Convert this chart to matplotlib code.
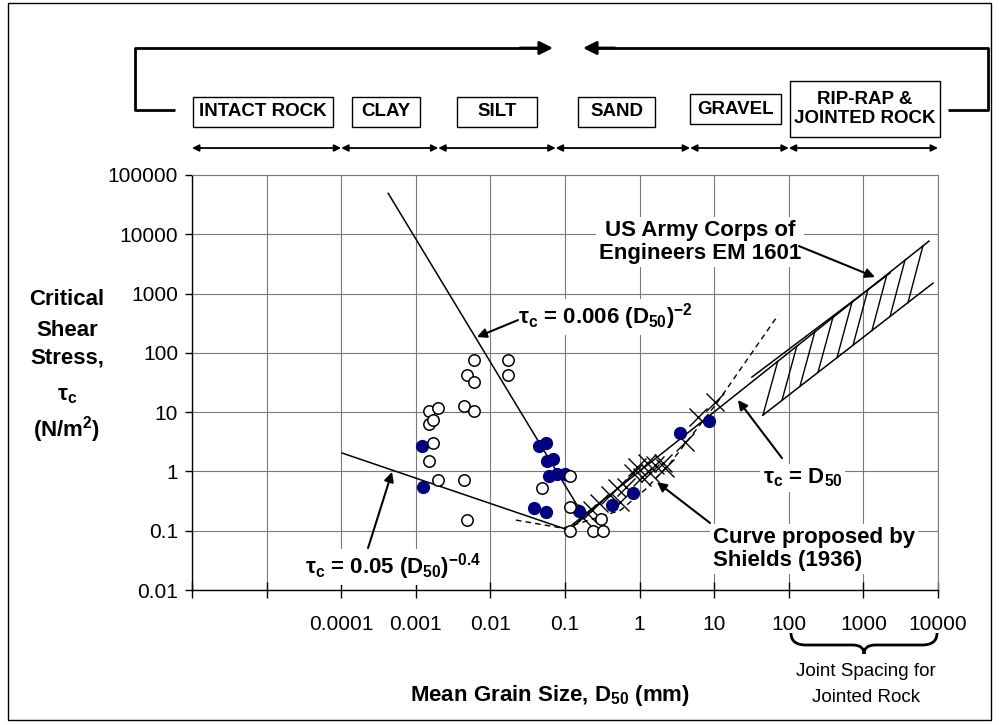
import numpy as np
import matplotlib
matplotlib.use('Agg')
import matplotlib.pyplot as plt
from matplotlib.lines import Line2D
from matplotlib.patches import Rectangle, PathPatch, FancyArrowPatch
from matplotlib.path import Path
from matplotlib import font_manager as fm
from matplotlib.ticker import NullLocator

# ---- data ----
# open circles
open_x = [0.0060, 0.0172, 0.0049, 0.0060, 0.0172, 0.0044, 0.0060, 0.0015, 0.0020, 0.0015,
          0.0017, 0.0017, 0.0015, 0.0020, 0.0044, 0.0049, 0.049, 0.115, 0.115, 0.115,
          0.24, 0.32, 0.30]
open_y = [75, 75, 42, 32, 42, 12.7, 10.4, 10.4, 11.7, 6.3,
          7.4, 3.0, 1.5, 0.72, 0.72, 0.15, 0.52, 0.84, 0.25, 0.10,
          0.10, 0.10, 0.16]

# filled (navy) circles
filled_x = [0.00120, 0.00124, 0.045, 0.056, 0.057, 0.069, 0.061, 0.078, 0.100,
            0.038, 0.056, 0.155, 0.43, 0.82, 3.5, 8.5]
filled_y = [2.7, 0.55, 2.7, 3.0, 1.5, 1.6, 0.85, 0.92, 0.90,
            0.24, 0.21, 0.215, 0.27, 0.43, 4.4, 7.1]

# crosses
cross_x = [0.17, 0.20, 0.23, 0.29, 0.40, 0.50, 0.55, 0.65, 0.82, 0.92,
           1.07, 1.26, 1.37, 1.60, 2.06, 2.20, 4.1, 6.1, 10.3]
cross_y = [0.17, 0.20, 0.22, 0.29, 0.40, 0.52, 0.30, 0.55, 0.95, 1.19,
           0.81, 1.39, 0.94, 1.29, 1.39, 1.15, 3.1, 8.3, 14.8]

# straight lines (end points)
steep_x = [4.27e-4, 0.159]      # tau_c = 0.006 D50^-2
steep_y = [4.9e4, 0.223]
flat_x = [1.03e-4, 0.103]       # tau_c = 0.05 D50^-0.4
flat_y = [2.04, 0.106]
unit_x = [0.124, 7570]          # tau_c = D50
unit_y = [0.125, 7670]

# Shields curve (dashed)
shields_x = [0.022, 0.095, 0.55, 1.18, 2.56, 10.8, 72]
shields_y = [0.151, 0.11, 0.22, 0.49, 1.37, 14.1, 434]

# US Army Corps band
band_low_x = [45, 8570]
band_low_y = [8.9, 1500]
band_up_x = [32, 2275]
band_up_y = [39, 2220]
hatch_bottom_x = [45, 81, 141, 246, 443, 726, 1303, 2275, 3963]
hatch_top_x = [71, 128, 223, 390, 702, 1150, 2065, 3605, 6280]

# axes
x_ticks = [1e-6, 1e-5, 1e-4, 1e-3, 1e-2, 1e-1, 1, 10, 100, 1000, 1e4]
x_tick_labels = ['', '', '0.0001', '0.001', '0.01', '0.1', '1', '10', '100', '1000', '10000']
y_ticks = [0.01, 0.1, 1, 10, 100, 1000, 1e4, 1e5]
y_tick_labels = ['0.01', '0.1', '1', '10', '100', '1000', '10000', '100000']

# soil classes along the top
class_bounds = [1e-6, 1e-4, 0.002, 0.075, 4.75, 100, 1e4]
class_names = ['INTACT ROCK', 'CLAY', 'SILT', 'SAND', 'GRAVEL', 'RIP-RAP &\nJOINTED ROCK']

W, H = 999, 725


def fx(px):
    return px / W


def fy(py):
    return 1 - py / H


def loginterp(x, xs, ys):
    return 10 ** np.interp(np.log10(x), np.log10(xs), np.log10(ys))


def fig_line(fig, xs, ys, lw=1.0):
    fig.add_artist(Line2D([fx(v) for v in xs], [fy(v) for v in ys],
                          transform=fig.transFigure, color='black', lw=lw,
                          solid_capstyle='butt'))


def fig_box(fig, x0, y0, x1, y1):
    fig.add_artist(Rectangle((fx(x0), fy(y1)), fx(x1) - fx(x0), fy(y0) - fy(y1),
                             transform=fig.transFigure, fill=False, ec='black', lw=1))


def main():
    plt.rcParams['font.family'] = ['Liberation Sans', 'DejaVu Sans']
    plt.rcParams['mathtext.fontset'] = 'custom'
    plt.rcParams['mathtext.rm'] = 'Liberation Sans'
    plt.rcParams['mathtext.bf'] = 'Liberation Sans:bold'
    plt.rcParams['mathtext.it'] = 'Liberation Sans:italic'

    names = {f.name for f in fm.fontManager.ttflist}
    box_font = 'Liberation Sans Narrow' if 'Liberation Sans Narrow' in names else 'Liberation Sans'
    box_size = 15 if box_font == 'Liberation Sans Narrow' else 13.5

    fig = plt.figure(figsize=(W / 100, H / 100), dpi=100)
    ax = fig.add_axes([fx(192), fy(590), fx(938) - fx(192), fy(175) - fy(590)])
    ax.set_xscale('log')
    ax.set_yscale('log')
    ax.set_xlim(1e-6, 1e4)
    ax.set_ylim(0.01, 1e5)
    ax.set_xticks(x_ticks, x_tick_labels)
    ax.set_yticks(y_ticks, y_tick_labels)
    ax.xaxis.set_minor_locator(NullLocator())
    ax.yaxis.set_minor_locator(NullLocator())
    ax.tick_params(axis='x', direction='inout', length=12, width=1, pad=12, labelsize=15)
    ax.tick_params(axis='y', direction='out', length=5, width=1, pad=5, labelsize=15)
    ax.grid(True, color='#7a7a7a', lw=0.8)
    ax.set_axisbelow(True)
    for side in ['top', 'right']:
        ax.spines[side].set_color('#7a7a7a')
        ax.spines[side].set_linewidth(0.8)
    for side in ['left', 'bottom']:
        ax.spines[side].set_linewidth(1.0)

    # lines
    ax.plot(steep_x, steep_y, color='black', lw=1.1)
    ax.plot(flat_x, flat_y, color='black', lw=1.1)
    ax.plot(unit_x, unit_y, color='black', lw=1.1)
    ax.plot(shields_x, shields_y, color='black', lw=1.0, dashes=(4, 3))

    # Corps of Engineers band
    ax.plot(band_low_x, band_low_y, color='black', lw=1.1)
    ax.plot(band_up_x, band_up_y, color='black', lw=1.1)
    for xb, xt in zip(hatch_bottom_x, hatch_top_x):
        yb = loginterp(xb, band_low_x, band_low_y)
        yt = loginterp(xt, unit_x, unit_y)
        ax.plot([xb, xt], [yb, yt], color='black', lw=1.0)

    # points
    ax.plot(cross_x, cross_y, 'x', color='black', ms=13, mew=1.0, ls='none', zorder=3)
    ax.plot(filled_x, filled_y, 'o', color='#000080', ms=8.5, ls='none', zorder=4)
    ax.plot(open_x, open_y, 'o', mfc='white', mec='black', ms=8.2, mew=1.1, ls='none', zorder=5)

    # annotations
    bb = dict(facecolor='white', edgecolor='none', pad=2)
    arr = dict(arrowstyle='-|>', color='black', lw=1.5, mutation_scale=14, shrinkA=0, shrinkB=0)
    ax.text(0.0234, 402, r'τ$_\mathbf{c}$ = 0.006 (D$_\mathbf{50}$)$^\mathbf{-2}$',
            fontsize=16, fontweight='bold', ha='left', va='center', bbox=bb, zorder=6)
    ax.annotate('', xy=(0.0066, 185), xytext=(0.0234, 357), arrowprops=arr, zorder=6)

    ax.text(3.27e-5, 0.0244, r'τ$_\mathbf{c}$ = 0.05 (D$_\mathbf{50}$)$^\mathbf{-0.4}$',
            fontsize=16, fontweight='bold', ha='left', va='center', bbox=bb, zorder=6)
    ax.annotate('', xy=(4.8e-4, 0.98), xytext=(2.29e-4, 0.051), arrowprops=arr, zorder=6)

    ax.text(6.46, 7380, 'US Army Corps of\nEngineers EM 1601', fontsize=16, fontweight='bold',
            ha='center', va='center', linespacing=1.15, bbox=bb, zorder=6)
    ax.annotate('', xy=(1430, 1900), xytext=(137, 6320), arrowprops=arr, zorder=6)

    ax.text(45, 0.775, r'τ$_\mathbf{c}$ = D$_\mathbf{50}$', fontsize=16, fontweight='bold',
            ha='left', va='center', bbox=bb, zorder=6)
    ax.annotate('', xy=(20.8, 16), xytext=(81, 1.68), arrowprops=arr, zorder=6)

    ax.text(9.6, 0.049, 'Curve proposed by\nShields (1936)', fontsize=16, fontweight='bold',
            ha='left', va='center', linespacing=1.15, bbox=bb, zorder=6)
    ax.annotate('', xy=(1.71, 0.66), xytext=(8.8, 0.135), arrowprops=arr, zorder=6)

    # class range arrows above the plot
    xt = ax.get_xaxis_transform()
    for a, b in zip(class_bounds[:-1], class_bounds[1:]):
        ax.annotate('', xy=(b, 1.065), xytext=(a, 1.065), xycoords=xt, textcoords=xt,
                    annotation_clip=False,
                    arrowprops=dict(arrowstyle='<|-|>', color='black', lw=1.3,
                                    mutation_scale=10, shrinkA=0, shrinkB=0))

    # class boxes
    boxes = [(193, 97, 333, 127), (352, 97, 420, 127), (457, 97, 537, 127),
             (578, 97, 655, 127), (690, 94, 781, 124), (790, 81, 940, 137)]
    for name, (x0, y0, x1, y1) in zip(class_names, boxes):
        fig_box(fig, x0, y0, x1, y1)
        fig.text(fx((x0 + x1) / 2), fy((y0 + y1) / 2), name, ha='center', va='center',
                 fontsize=box_size, fontweight='bold', family=[box_font, 'DejaVu Sans'],
                 linespacing=1.2)

    # brackets
    fig_line(fig, [175, 135, 135, 540], [110, 110, 48, 48], lw=2.0)
    fig_line(fig, [948, 988, 988, 595], [110, 110, 48, 48], lw=2.0)
    fa = dict(arrowstyle='-|>', color='black', lw=2.0, mutation_scale=20, shrinkA=0, shrinkB=0)
    fig.add_artist(FancyArrowPatch((fx(520), fy(48)), (fx(553), fy(48)),
                                   transform=fig.transFigure, **fa))
    fig.add_artist(FancyArrowPatch((fx(615), fy(48)), (fx(583), fy(48)),
                                   transform=fig.transFigure, **fa))

    # y label
    ylab = [('Critical', 300), ('Shear', 330), ('Stress,', 358),
            (r'τ$_\mathbf{c}$', 396), (r'(N/m$^\mathbf{2}$)', 430)]
    for s, py in ylab:
        fig.text(fx(67), fy(py), s, ha='center', va='center', fontsize=16, fontweight='bold')

    # x label
    fig.text(fx(550), fy(696), r'Mean Grain Size, D$_\mathbf{50}$ (mm)', ha='center', va='center',
             fontsize=16, fontweight='bold')

    # brace for joint spacing
    pts = [(791, 633), (791, 641), (796, 645), (806, 645), (852, 645),
           (860, 645), (864, 648), (864, 654),
           (864, 648), (868, 645), (876, 645), (922, 645),
           (932, 645), (937, 641), (937, 633)]
    codes = [Path.MOVETO, Path.CURVE4, Path.CURVE4, Path.CURVE4, Path.LINETO,
             Path.CURVE4, Path.CURVE4, Path.CURVE4,
             Path.CURVE4, Path.CURVE4, Path.CURVE4, Path.LINETO,
             Path.CURVE4, Path.CURVE4, Path.CURVE4]
    brace = Path([(fx(a), fy(b)) for a, b in pts], codes)
    fig.add_artist(PathPatch(brace, transform=fig.transFigure, fill=False, ec='black', lw=2.0))
    fig.text(fx(866), fy(672), 'Joint Spacing for', ha='center', va='center', fontsize=13.5)
    fig.text(fx(866), fy(697), 'Jointed Rock', ha='center', va='center', fontsize=13.5)

    # outer frame
    fig_box(fig, 8, 3, 991, 720)

    fig.savefig('out.png', dpi=100)


if __name__ == "__main__":
    main()
